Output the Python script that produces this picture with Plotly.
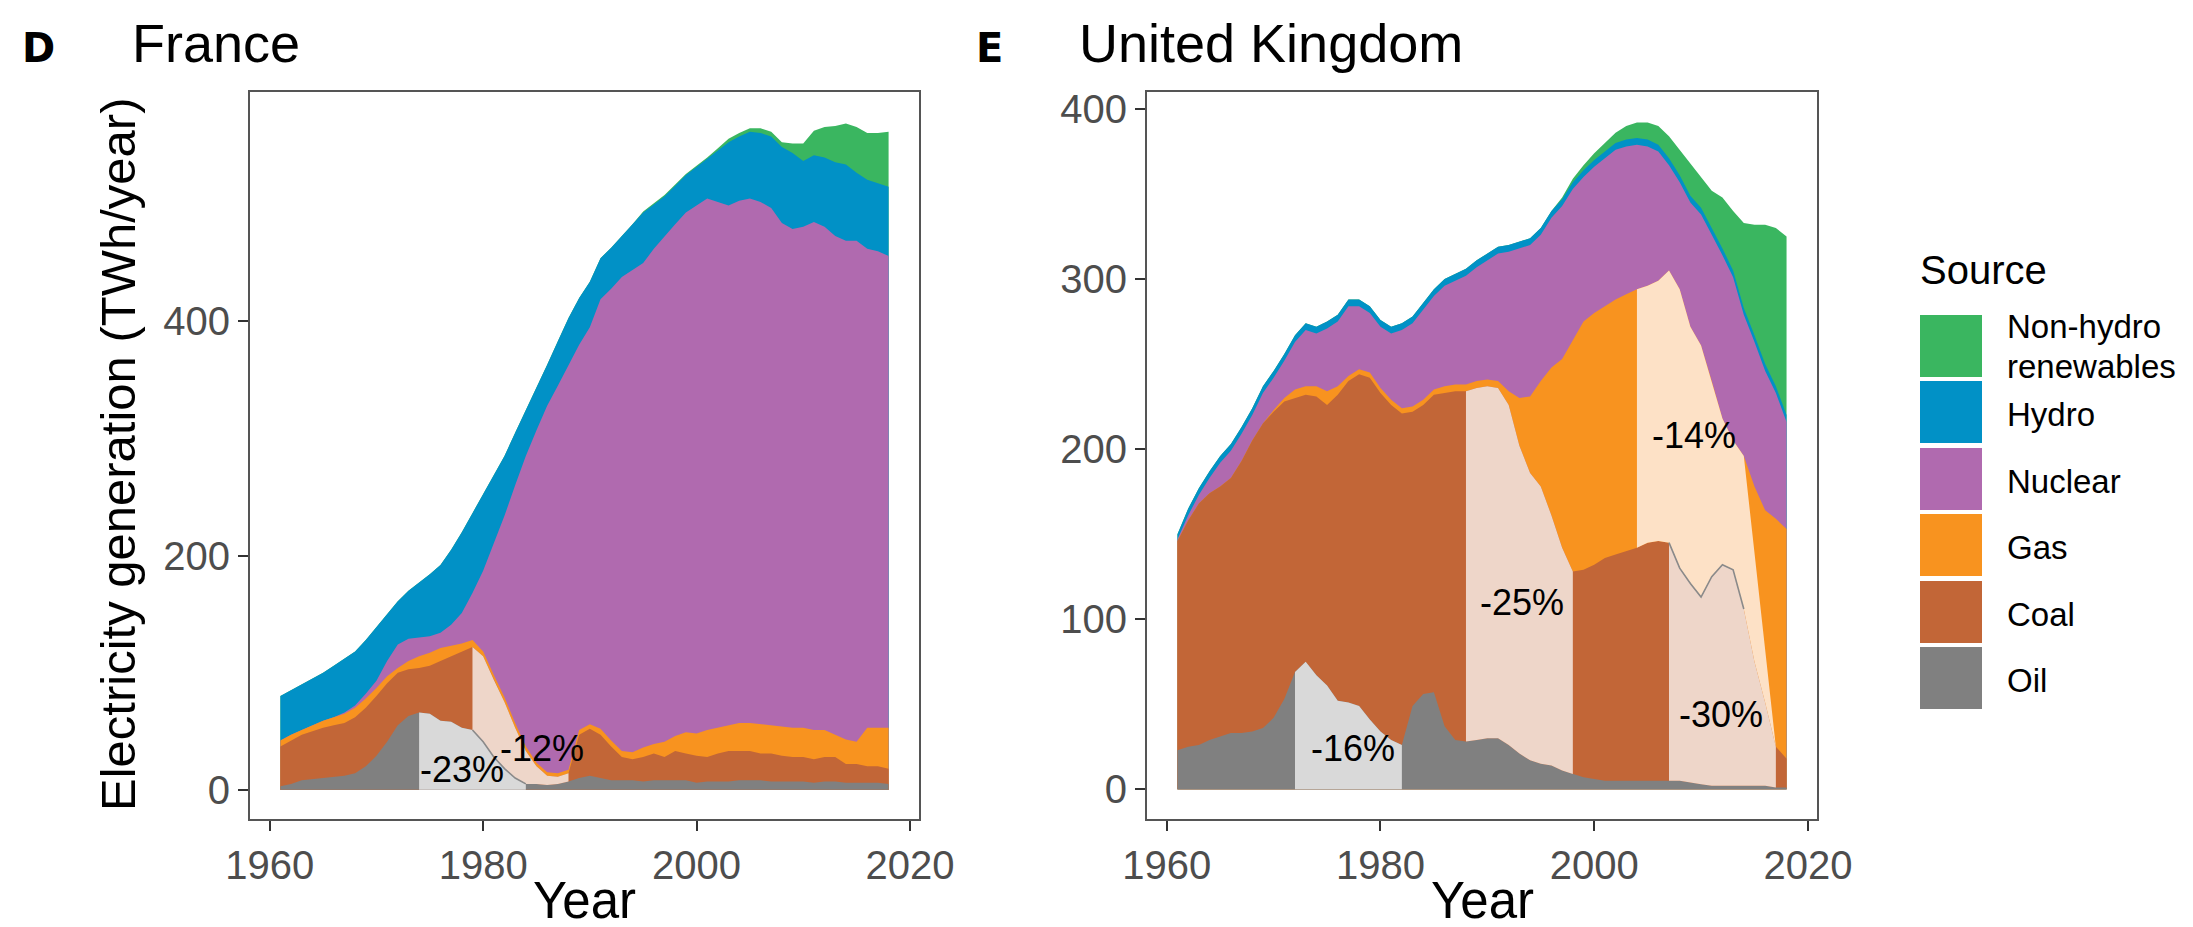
import numpy as np
import plotly.graph_objects as go

years = list(range(1961, 2019))

# ---------------- France (TWh/year) ----------------
fr_oil = [3, 5, 8, 9, 10, 11, 12, 14, 20, 29,
          41, 55, 63, 66, 65, 59, 58, 53, 51, 41,
          28, 18, 10, 5, 5, 4, 5, 7, 10, 12,
          10, 8, 8, 8, 7, 8, 8, 8, 8, 6,
          7, 7, 7, 8, 8, 8, 7, 7, 7, 7,
          6, 7, 7, 6, 6, 6, 6, 5]
fr_coal = [34, 37, 39, 41, 43, 44, 45, 48, 50, 51,
           50, 45, 40, 38, 41, 51, 56, 65, 71, 73,
           66, 57, 43, 28, 15, 8, 6, 7, 37, 40,
           37, 29, 20, 18, 21, 23, 20, 25, 23, 23,
           21, 24, 26, 25, 25, 23, 24, 22, 21, 21,
           20, 21, 21, 16, 16, 14, 14, 13]
fr_gas = [5, 5, 4, 5, 6, 7, 8, 8, 8, 7,
          6, 4, 7, 10, 11, 11, 9, 7, 6, 4,
          4, 4, 4, 4, 3, 3, 3, 3, 4, 4,
          5, 5, 5, 6, 8, 8, 13, 13, 18, 19,
          23, 22, 22, 24, 24, 25, 24, 25, 25, 25,
          25, 23, 19, 21, 19, 33, 33, 35]
fr_nuclear = [0, 0, 0, 0, 0, 0, 1, 2, 4, 6,
              13, 20, 19, 16, 14, 13, 18, 26, 40, 69,
              112, 155, 203, 248, 284, 313, 331, 346, 329, 339,
              367, 386, 405, 412, 414, 423, 432, 437, 444, 451,
              454, 449, 444, 446, 448, 446, 442, 430, 426, 428,
              434, 430, 426, 426, 428, 409, 407, 403]
fr_hydro = [38, 38, 39, 40, 41, 44, 46, 46, 46, 46,
            40, 37, 41, 47, 53, 58, 64, 69, 68, 66,
            59, 51, 45, 39, 36, 35, 38, 40, 40, 39,
            35, 35, 35, 39, 43, 38, 34, 33, 32, 33,
            34, 44, 54, 55, 57, 59, 61, 65, 65, 56,
            57, 59, 63, 65, 58, 59, 58, 59]
fr_renew = [0] * 34 + [1, 1, 1, 1, 1, 1, 1, 2, 3, 3,
                       3, 4, 4, 4, 8, 15, 21, 26, 31, 35,
                       39, 40, 43, 47]

# ---------------- United Kingdom (TWh/year) ----------------
uk_oil = [23, 25, 26, 29, 31, 33, 33, 34, 36, 42,
          53, 69, 75, 67, 61, 52, 51, 49, 41, 34,
          29, 26, 49, 56, 57, 37, 29, 28, 29, 30,
          30, 26, 21, 17, 15, 14, 11, 9, 7, 6,
          5, 5, 5, 5, 5, 5, 5, 5, 4, 3,
          2, 2, 2, 2, 2, 2, 1, 1]
uk_coal = [123, 133, 142, 145, 147, 150, 160, 171, 179, 180,
           175, 161, 157, 164, 165, 180, 189, 195, 201, 199,
           197, 195, 173, 170, 175, 196, 205, 206, 207, 207,
           206, 200, 181, 169, 163, 147, 131, 119, 122, 126,
           131, 133, 135, 137, 140, 141, 140, 125, 117, 110,
           123, 130, 127, 104, 73, 49, 24, 17]
uk_gas = [0, 0, 0, 0, 0, 0, 0, 0, 0, 1,
          2, 5, 5, 6, 8, 5, 3, 3, 3, 3,
          3, 3, 3, 3, 3, 4, 4, 4, 4, 4,
          4, 8, 28, 45, 62, 87, 111, 136, 146, 148,
          148, 150, 151, 152, 151, 153, 160, 164, 151, 148,
          115, 86, 76, 90, 103, 113, 134, 135]
uk_nuclear = [1, 3, 5, 9, 14, 16, 16, 15, 18, 19,
              22, 28, 33, 31, 37, 38, 41, 37, 35, 36,
              39, 46, 49, 53, 55, 59, 61, 64, 67, 70,
              75, 82, 88, 89, 86, 88, 90, 89, 85, 86,
              87, 88, 87, 85, 82, 76, 62, 63, 73, 77,
              86, 96, 96, 83, 85, 82, 74, 63]
uk_hydro = [3] + [4] * 57
uk_renew = [0] * 36 + [1, 2, 3, 4, 5, 6, 8, 9, 10, 11,
                       13, 15, 19, 18, 22, 30, 35, 50, 65, 82,
                       93, 105]

sources = ["Oil", "Coal", "Gas", "Nuclear", "Hydro", "Non-hydro renewables"]
colors = ["#808080", "#c26637", "#f8931f", "#b06aaf", "#0191c6", "#3ab660"]
light_colors = ["#d9d9d9", "#eed6c9", "#fde1c6"]

# decline windows: (layer index, start year, end year, end year of lower edge)
fr_windows = [(0, 1974, 1984, 1984), (1, 1979, 1988, 1988)]
fr_labels = [("-23%", 1978.0, 17), ("-12%", 1985.5, 35)]
uk_windows = [(0, 1972, 1982, 1982), (1, 1988, 1998, 1998),
              (1, 2007, 2017, 2017), (2, 2004, 2014, 2017)]
uk_labels = [("-16%", 1977.4, 24), ("-25%", 1993.2, 110),
             ("-14%", 2009.3, 208), ("-30%", 2011.9, 44)]
fr_edge = (0, 1979, 1984)   # boundary line drawn inside pale areas
uk_edge = (1, 2007, 2014)

fig = go.Figure()
yrs = np.array(years, dtype=float)
font = "Liberation Sans"


def add_panel(xa, ya, layers, windows, labels, edge):
    cum = np.cumsum(np.array(layers, dtype=float), axis=0)
    zeros = np.zeros(len(yrs))
    for i in reversed(range(len(layers))):
        fig.add_trace(go.Scatter(
            x=np.concatenate([yrs, yrs[::-1]]),
            y=np.concatenate([cum[i], zeros[::-1]]),
            fill="toself", fillcolor=colors[i], mode="lines",
            line=dict(width=0), xaxis=xa, yaxis=ya,
            hoverinfo="skip", showlegend=False))
    for (i, a, b, b2) in windows:
        up = (yrs >= a) & (yrs <= b)
        lo = (yrs >= a) & (yrs <= b2)
        lower = cum[i - 1] if i > 0 else zeros
        fig.add_trace(go.Scatter(
            x=np.concatenate([yrs[up], yrs[lo][::-1]]),
            y=np.concatenate([cum[i][up], lower[lo][::-1]]),
            fill="toself", fillcolor=light_colors[i], mode="lines",
            line=dict(width=0), xaxis=xa, yaxis=ya,
            hoverinfo="skip", showlegend=False))
    i, a, b = edge
    m = (yrs >= a) & (yrs <= b)
    fig.add_trace(go.Scatter(x=yrs[m], y=cum[i][m], mode="lines",
                             line=dict(color="#8a8a8a", width=1.6),
                             xaxis=xa, yaxis=ya, hoverinfo="skip",
                             showlegend=False))
    for (txt, lx, ly) in labels:
        fig.add_annotation(x=lx, y=ly, xref=xa, yref=ya, text=txt,
                           showarrow=False,
                           font=dict(size=36, color="black", family=font))


add_panel("x", "y", [fr_oil, fr_coal, fr_gas, fr_nuclear, fr_hydro, fr_renew],
          fr_windows, fr_labels, fr_edge)
add_panel("x2", "y2", [uk_oil, uk_coal, uk_gas, uk_nuclear, uk_hydro, uk_renew],
          uk_windows, uk_labels, uk_edge)

W, H = 2193, 927
axis_common = dict(showgrid=False, zeroline=False, showline=True, mirror=True,
                   linecolor="#555555", linewidth=2, ticks="outside",
                   ticklen=10, tickwidth=2, tickcolor="#333333", automargin=False,
                   tickfont=dict(size=40, color="#4d4d4d", family=font))
ydom = [116 / H, 843 / H]
fig.update_layout(
    width=W, height=H,
    margin=dict(l=0, r=0, t=0, b=0, pad=0, autoexpand=False),
    paper_bgcolor="white", plot_bgcolor="white", showlegend=False,
    xaxis=dict(domain=[242 / W, 911 / W], range=[1958.15, 2020.85],
               tickvals=[1960, 1980, 2000, 2020], anchor="y", **axis_common),
    yaxis=dict(domain=ydom, range=[-25, 596], tickvals=[0, 200, 400],
               anchor="x", **axis_common),
    xaxis2=dict(domain=[1139 / W, 1809 / W], range=[1958.15, 2020.85],
                tickvals=[1960, 1980, 2000, 2020], anchor="y2", **axis_common),
    yaxis2=dict(domain=ydom, range=[-17.5, 410],
                tickvals=[0, 100, 200, 300, 400], anchor="x2", **axis_common),
)


def px(x):
    return x / W


def py(y):
    return 1 - y / H


def text(x, y, s, size, color="black", xanchor="left", bold_family=None, angle=0):
    fig.add_annotation(x=px(x), y=py(y), xref="paper", yref="paper", text=s,
                       showarrow=False, xanchor=xanchor, yanchor="middle",
                       textangle=angle,
                       font=dict(size=size, color=color,
                                 family=bold_family or font))


# panel tags and titles
text(12, 40, "<b>D</b>", 40, bold_family="DejaVu Sans")
text(966, 40, "<b>E</b>", 40, bold_family="DejaVu Sans")
text(122, 35, "France", 54)
text(1069, 35, "United Kingdom", 54)
# axis titles
text(576, 892, "Year", 51, xanchor="center")
text(1474, 892, "Year", 51, xanchor="center")
text(110, 447, "Electricity generation (TWh/year)", 49, xanchor="center", angle=-90)

# legend
text(1910, 262, "Source", 40)
sw_top = [307, 373, 440, 506, 573, 639]
leg_colors = colors[::-1]
leg_lines = [["Non-hydro", "renewables"], ["Hydro"], ["Nuclear"], ["Gas"], ["Coal"], ["Oil"]]
for k, lines in enumerate(leg_lines):
    t = sw_top[k]
    fig.add_shape(type="rect", xref="paper", yref="paper",
                  x0=px(1912), x1=px(1974), y0=py(t), y1=py(t + 62),
                  fillcolor=leg_colors[k], line=dict(width=0))
    if len(lines) == 1:
        text(1997, t + 33, lines[0], 33)
    else:
        text(1997, t + 12, lines[0], 33)
        text(1997, t + 51, lines[1], 33)

fig.write_html("out.html")
